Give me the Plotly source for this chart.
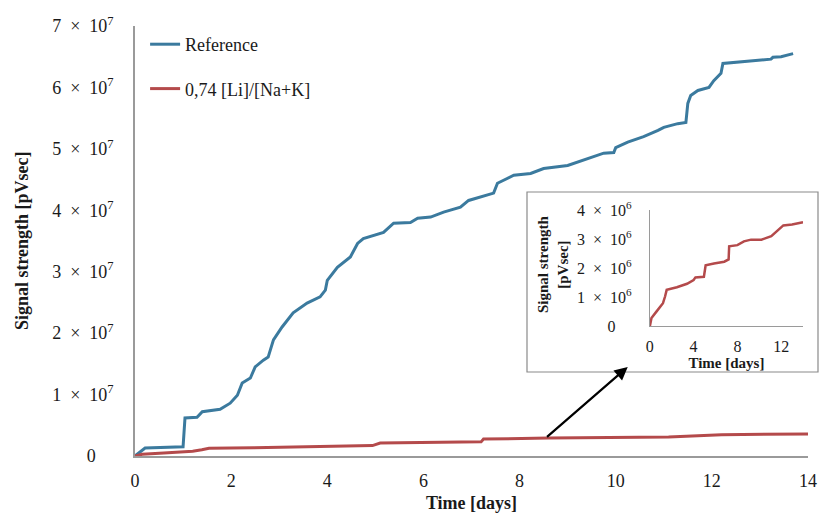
import plotly.graph_objects as go

# ---- data ----
ref_days = [0, 0.12, 0.21, 1.0, 1.04, 1.29, 1.40, 1.77, 1.98, 2.13, 2.23, 2.40, 2.50, 2.67,
            2.77, 2.88, 3.06, 3.29, 3.58, 3.85, 3.96, 4.00, 4.21, 4.48, 4.63, 4.75, 5.17,
            5.38, 5.73, 5.88, 6.15, 6.42, 6.77, 6.94, 7.46, 7.54, 7.88, 8.23, 8.50, 9.00,
            9.48, 9.75, 9.96, 10.0, 10.25, 10.58, 10.88, 11.0, 11.29, 11.46, 11.5, 11.56,
            11.71, 11.94, 12.04, 12.19, 12.23, 12.54, 12.67, 13.23, 13.27, 13.44, 13.69]
ref_signal_e7 = [0, 0.07, 0.13, 0.15, 0.62, 0.63, 0.72, 0.76, 0.86, 0.99, 1.19, 1.27, 1.45, 1.56,
                 1.61, 1.89, 2.10, 2.33, 2.49, 2.59, 2.70, 2.86, 3.07, 3.24, 3.46, 3.54, 3.64,
                 3.79, 3.80, 3.87, 3.89, 3.97, 4.05, 4.16, 4.28, 4.44, 4.57, 4.60, 4.68, 4.73,
                 4.85, 4.93, 4.94, 5.02, 5.11, 5.20, 5.30, 5.35, 5.41, 5.43, 5.74, 5.87,
                 5.95, 6.00, 6.11, 6.23, 6.39, 6.41, 6.42, 6.46, 6.49, 6.50, 6.55]

li_days = [0, 0.15, 0.6, 1.2, 1.39, 1.54, 2.47, 3.4, 4.0, 4.17, 4.94, 5.1, 5.86, 6.8, 7.2,
           7.25, 8.0, 8.6, 9.25, 10.2, 11.1, 12.2, 13.0, 14.0]
li_signal_e6 = [0, 0.28, 0.5, 0.79, 1.02, 1.25, 1.34, 1.46, 1.59, 1.68, 1.7, 2.1, 2.16, 2.22, 2.3,
                2.75, 2.79, 2.92, 2.98, 2.98, 3.1, 3.47, 3.5, 3.58]

series_names = ["Reference", "0,74 [Li]/[Na+K]"]
main_x_ticks = [0, 2, 4, 6, 8, 10, 12, 14]
main_y_ticks = [0, 1e7, 2e7, 3e7, 4e7, 5e7, 6e7, 7e7]
main_y_labels = ["0\u2003"] + [f"{k}\u2002×\u200210<sup>7</sup>" for k in range(1, 8)]
inset_x_ticks = [0, 4, 8, 12]
inset_y_ticks = [0, 1e6, 2e6, 3e6, 4e6]
inset_y_labels = ["0\u2002\u2002"] + [f"{k}\u2002×\u200210<sup>6</sup>" for k in range(1, 5)]

ref_signal = [v * 1e7 for v in ref_signal_e7]
li_signal = [v * 1e6 for v in li_signal_e6]

BLUE = "#3b7a9e"
RED = "#b44a4b"
FONT = "Liberation Serif"
AXC = "#9a9a9a"

fig = go.Figure()
fig.add_trace(go.Scatter(x=ref_days, y=ref_signal, mode="lines", name=series_names[0],
                         line=dict(color=BLUE, width=3), legendgroup="a"))
fig.add_trace(go.Scatter(x=li_days, y=li_signal, mode="lines", name=series_names[1],
                         line=dict(color=RED, width=3), legendgroup="b"))
fig.add_trace(go.Scatter(x=li_days, y=li_signal, mode="lines", showlegend=False,
                         line=dict(color=RED, width=2.5), xaxis="x2", yaxis="y2"))

fig.update_layout(
    width=820, height=518,
    margin=dict(l=135, r=12, t=26, b=62, autoexpand=False),
    paper_bgcolor="white", plot_bgcolor="white",
    font=dict(family=FONT, size=18, color="#1a1a1a"),
    showlegend=True,
    legend=dict(x=0.015, y=1.0, xanchor="left", yanchor="top", bgcolor="rgba(0,0,0,0)",
                font=dict(family=FONT, size=18), tracegroupgap=18, itemwidth=30),
    xaxis=dict(range=[0, 14], tickvals=main_x_ticks, showgrid=False, zeroline=False,
               showline=True, linecolor=AXC, linewidth=1.5, ticks="", automargin=False,
               ticklabelstandoff=8, tickfont=dict(size=18),
               title=dict(text="<b>Time [days]</b>", font=dict(size=18), standoff=6)),
    yaxis=dict(range=[0, 7e7], tickvals=main_y_ticks, ticktext=main_y_labels, showgrid=False,
               zeroline=False, showline=True, linecolor=AXC, linewidth=1.5, ticks="",
               automargin=False, ticklabelstandoff=16, tickfont=dict(size=18)),
    xaxis2=dict(domain=[0.765, 0.9926], anchor="y2", range=[0, 14], tickvals=inset_x_ticks,
                showgrid=False, zeroline=False, showline=True, linecolor=AXC, linewidth=1.2,
                ticks="", automargin=False, ticklabelstandoff=6, tickfont=dict(size=16),
                title=dict(text="<b>Time [days]</b>", font=dict(size=15), standoff=2)),
    yaxis2=dict(domain=[0.302, 0.572], anchor="x2", range=[0, 4e6], tickvals=inset_y_ticks,
                ticktext=inset_y_labels, showgrid=False, zeroline=False, showline=True,
                linecolor=AXC, linewidth=1.2, ticks="", automargin=False,
                ticklabelstandoff=14, tickfont=dict(size=16)),
)

# main y-axis title
fig.add_annotation(text="<b>Signal strength [pVsec]</b>", xref="paper", yref="paper",
                   x=-0.168, y=0.502, textangle=-90, showarrow=False,
                   font=dict(size=18, family=FONT), xanchor="center", yanchor="middle")
# inset y-axis title
fig.add_annotation(text="<b>Signal strength<br>[pVsec]</b>", xref="paper", yref="paper",
                   x=(553 - 135) / 673, y=(456 - 265) / 430, textangle=-90, showarrow=False,
                   font=dict(size=15, family=FONT), xanchor="center", yanchor="middle")

# inset frame
fig.add_shape(type="rect", xref="paper", yref="paper",
              x0=(527 - 135) / 673, x1=(818 - 135) / 673,
              y0=(456 - 372) / 430, y1=(456 - 192) / 430,
              line=dict(color="#8a8a8a", width=1.2), layer="below")

# arrow pointing from the red curve to the inset
fig.add_annotation(x=10.25, y=1.45e7, ax=8.54, ay=0.29e7, xref="x", yref="y",
                   axref="x", ayref="y", showarrow=True, arrowhead=2, arrowsize=1.2,
                   arrowwidth=2.2, arrowcolor="black", text="")

fig.write_html("out.html")
